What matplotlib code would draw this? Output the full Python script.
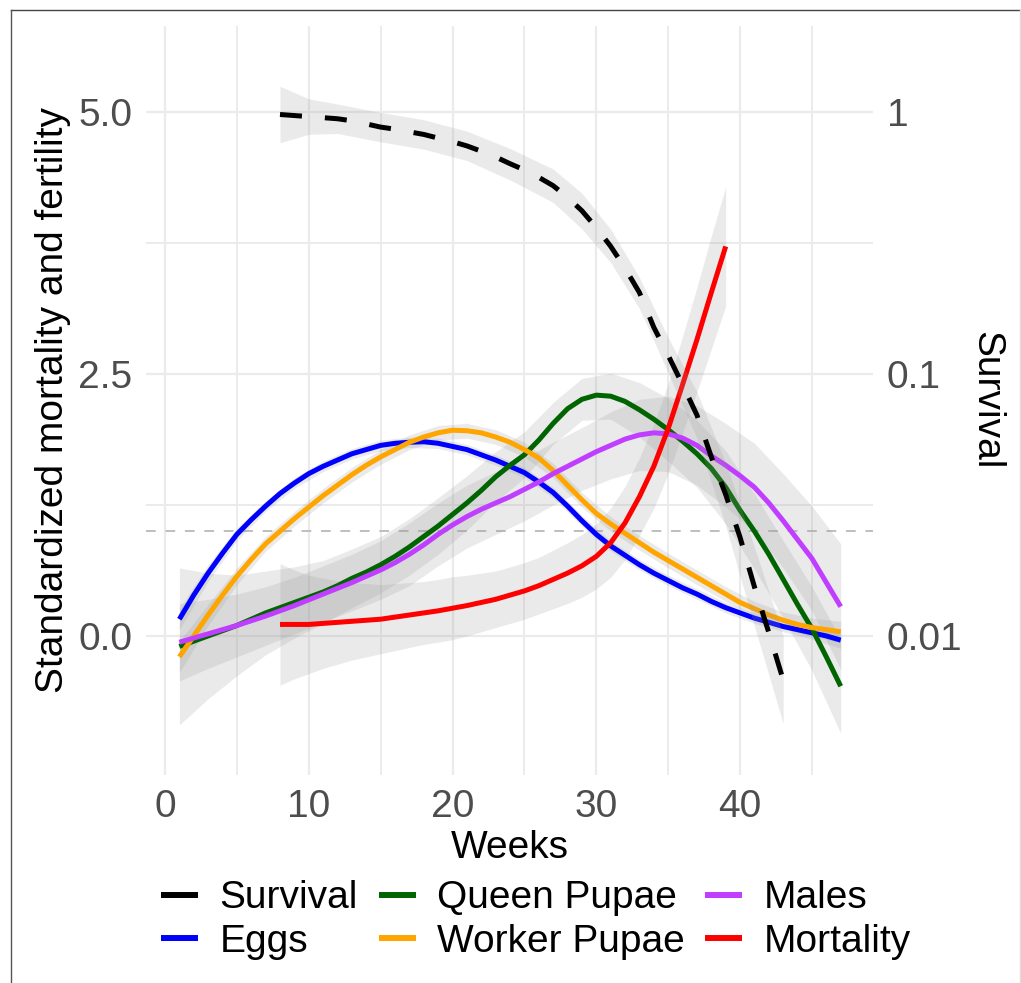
import matplotlib
matplotlib.use('Agg')
import numpy as np
import matplotlib.pyplot as plt
from matplotlib.lines import Line2D

plt.rcParams['font.family'] = 'Liberation Sans'

# smoothed curves, one value per week (left axis units)
weeks = np.arange(1, 48)
eggs = [0.16, 0.39, 0.60, 0.79, 0.97, 1.11, 1.24, 1.36, 1.46, 1.55, 1.62, 1.68,
        1.74, 1.78, 1.82, 1.84, 1.85, 1.855, 1.84, 1.81, 1.78, 1.73, 1.68, 1.62,
        1.56, 1.47, 1.37, 1.24, 1.10, 0.97, 0.86, 0.77, 0.68, 0.60, 0.53, 0.46,
        0.40, 0.33, 0.27, 0.22, 0.17, 0.13, 0.09, 0.06, 0.03, 0.00, -0.04]
queen = [-0.10, -0.05, 0.00, 0.05, 0.10, 0.16, 0.22, 0.27, 0.32, 0.37, 0.42, 0.48,
         0.55, 0.61, 0.68, 0.76, 0.85, 0.95, 1.05, 1.16, 1.27, 1.39, 1.52, 1.63,
         1.73, 1.87, 2.03, 2.17, 2.26, 2.30, 2.29, 2.24, 2.16, 2.07, 1.97, 1.86,
         1.74, 1.60, 1.42, 1.20, 1.00, 0.78, 0.54, 0.30, 0.07, -0.20, -0.48]
worker = [-0.20, 0.00, 0.20, 0.39, 0.57, 0.73, 0.88, 1.00, 1.12, 1.23, 1.34, 1.44,
          1.54, 1.63, 1.71, 1.78, 1.85, 1.90, 1.94, 1.965, 1.96, 1.94, 1.90, 1.85,
          1.78, 1.70, 1.58, 1.44, 1.30, 1.17, 1.07, 0.98, 0.89, 0.80, 0.72, 0.64,
          0.56, 0.48, 0.40, 0.32, 0.26, 0.20, 0.15, 0.11, 0.08, 0.06, 0.04]
males = [-0.06, -0.02, 0.02, 0.06, 0.10, 0.145, 0.19, 0.24, 0.29, 0.345, 0.40, 0.455,
         0.51, 0.57, 0.63, 0.70, 0.78, 0.87, 0.97, 1.06, 1.14, 1.21, 1.27, 1.33,
         1.40, 1.47, 1.55, 1.62, 1.69, 1.76, 1.82, 1.88, 1.92, 1.94, 1.93, 1.89,
         1.82, 1.72, 1.63, 1.53, 1.42, 1.27, 1.10, 0.92, 0.74, 0.51, 0.28]

# half widths of the grey confidence bands, read every second week (1, 3, ..., 47)
band_weeks = weeks[::2]
eggs_band = [0.10, 0.08, 0.06, 0.05, 0.05, 0.05, 0.05, 0.05, 0.05, 0.05, 0.05, 0.05,
             0.05, 0.05, 0.05, 0.05, 0.05, 0.05, 0.05, 0.05, 0.05, 0.05, 0.06, 0.08]
queen_band = [0.75, 0.60, 0.48, 0.40, 0.34, 0.30, 0.28, 0.27, 0.27, 0.27, 0.26, 0.24,
              0.22, 0.20, 0.20, 0.22, 0.26, 0.30, 0.32, 0.35, 0.36, 0.37, 0.40, 0.45]
worker_band = [0.15, 0.10, 0.08, 0.07, 0.07, 0.07, 0.07, 0.07, 0.07, 0.07, 0.07, 0.07,
               0.07, 0.07, 0.07, 0.07, 0.07, 0.07, 0.07, 0.07, 0.07, 0.08, 0.09, 0.10]
males_band = [0.37, 0.33, 0.30, 0.28, 0.27, 0.27, 0.27, 0.28, 0.30, 0.30, 0.30, 0.30,
              0.30, 0.30, 0.30, 0.32, 0.34, 0.36, 0.38, 0.40, 0.42, 0.45, 0.50, 0.60]

mort_weeks = np.arange(8, 40)
mortality = [0.11, 0.11, 0.11, 0.12, 0.13, 0.14, 0.15, 0.16, 0.18, 0.20, 0.22, 0.24,
             0.265, 0.29, 0.32, 0.35, 0.39, 0.43, 0.48, 0.54, 0.60, 0.67, 0.76, 0.89,
             1.08, 1.33, 1.62, 1.98, 2.40, 2.83, 3.28, 3.72]
mort_band = [0.58, 0.52, 0.47, 0.43, 0.40, 0.37, 0.35, 0.33, 0.32, 0.31, 0.30, 0.30,
             0.30, 0.29, 0.28, 0.27, 0.27, 0.27, 0.27, 0.28, 0.29, 0.30, 0.31, 0.33,
             0.35, 0.37, 0.40, 0.43, 0.46, 0.50, 0.54, 0.57]

# survival on the log right axis, one value per week
surv_weeks = np.arange(8, 44)
survival = [0.982, 0.973, 0.964, 0.955, 0.946, 0.929, 0.904, 0.879, 0.863, 0.843,
            0.824, 0.798, 0.773, 0.745, 0.711, 0.676, 0.637, 0.603, 0.565, 0.525,
            0.474, 0.421, 0.363, 0.308, 0.254, 0.205, 0.151, 0.118, 0.0912, 0.0698,
            0.0483, 0.0347, 0.0238, 0.0154, 0.0103, 0.00679]
# its grey band, read at a coarser set of weeks
surv_band_weeks = [8, 10, 12, 15, 18, 21, 24, 27, 29, 31, 33, 35, 37, 39, 41, 43]
surv_lo = [0.766, 0.825, 0.831, 0.772, 0.724, 0.655, 0.552, 0.453, 0.359, 0.267,
           0.178, 0.101, 0.0570, 0.0263, 0.0109, 0.00462]
surv_hi = [1.259, 1.127, 1.077, 1.000, 0.938, 0.848, 0.728, 0.608, 0.491, 0.358,
           0.234, 0.138, 0.0855, 0.0457, 0.0219, 0.0100]

colors = {'Survival': 'black', 'Eggs': '#0000FF', 'Queen Pupae': '#006400',
          'Worker Pupae': '#FFA500', 'Males': '#BF3EFF', 'Mortality': '#FF0000'}

fig = plt.figure(figsize=(10.21, 9.83), dpi=100)
ax = fig.add_axes([0.1430, 0.2116, 0.7121, 0.7620])

ribbon = dict(color='#999999', alpha=0.2, lw=0)
series = [(weeks, eggs, band_weeks, eggs_band, 'Eggs'),
          (weeks, queen, band_weeks, queen_band, 'Queen Pupae'),
          (weeks, worker, band_weeks, worker_band, 'Worker Pupae'),
          (weeks, males, band_weeks, males_band, 'Males'),
          (mort_weeks, mortality, mort_weeks, mort_band, 'Mortality')]
for x, y, bx, b, name in series:
    yc = np.interp(bx, x, y)  # curve value at the band's own weeks
    ax.fill_between(bx, yc - np.array(b), yc + np.array(b), zorder=2, **ribbon)
for x, y, bx, b, name in series:
    ax.plot(x, y, color=colors[name], lw=3.6, zorder=3, solid_capstyle='butt')

ax.axhline(1, color='#BEBEBE', lw=1.4, ls=(0, (5, 5)), zorder=1.5)

ax.set_xlim(-1.32, 49.25)
ax.set_ylim(-1.328, 5.826)
ax.set_xticks([0, 10, 20, 30, 40])
ax.set_xticks([5, 15, 25, 35, 45], minor=True)
ax.set_yticks([0, 2.5, 5])
ax.set_yticklabels(['0.0', '2.5', '5.0'])
ax.set_yticks([1.25, 3.75], minor=True)
ax.grid(which='major', color='#EBEBEB', lw=1.6)
ax.grid(which='minor', color='#EBEBEB', lw=1.4)
ax.set_axisbelow(True)
ax.tick_params(which='both', length=0, labelsize=28, labelcolor='#4D4D4D', pad=10)
for s in ax.spines.values():
    s.set_visible(False)

ax.set_xlabel('Weeks', fontsize=28, va='center')
ax.xaxis.set_label_coords(0.5, -0.0975)
ax.set_ylabel('Standardized mortality and fertility', fontsize=28, va='center')
ax.yaxis.set_label_coords(-0.128, 0.5)

ax2 = ax.twinx()
ax2.set_yscale('log')
ax2.set_ylim(10 ** ((-1.328 - 5) / 2.5), 10 ** ((5.826 - 5) / 2.5))
ax2.fill_between(surv_band_weeks, surv_lo, surv_hi, zorder=2, **ribbon)
ax2.plot(surv_weeks, survival, color='black', lw=3.6, dashes=(4.4, 4.6))
ax2.set_yticks([1, 0.1, 0.01])
ax2.set_yticklabels(['1', '0.1', '0.01'])
ax2.yaxis.set_minor_locator(matplotlib.ticker.NullLocator())
ax2.tick_params(length=0, labelsize=28, labelcolor='#4D4D4D', pad=10)
for s in ax2.spines.values():
    s.set_visible(False)
ax2.set_ylabel('Survival', fontsize=28, rotation=270, va='center')
ax2.yaxis.set_label_coords(1.155, 0.5)

order = ['Survival', 'Eggs', 'Queen Pupae', 'Worker Pupae', 'Males', 'Mortality']
handles = [Line2D([], [], color=colors[n], lw=4.3, solid_capstyle='butt') for n in order]
fig.legend(handles, order, loc='center', bbox_to_anchor=(536 / 1021, 1 - 920 / 983),
           ncol=3, frameon=False, fontsize=28, handlelength=0.95, handletextpad=0.54,
           columnspacing=0.54, labelspacing=0.2, borderpad=0)

# thin frame visible around the picture
fig.add_artist(Line2D([11 / 1021, 1020 / 1021], [1 - 10 / 983] * 2, color='#444444', lw=1))
fig.add_artist(Line2D([11 / 1021] * 2, [0, 1 - 10 / 983], color='#555555', lw=1))
fig.add_artist(Line2D([1020 / 1021] * 2, [0, 1 - 10 / 983], color='#DDDDDD', lw=1))

fig.savefig('out.png', dpi=100)
